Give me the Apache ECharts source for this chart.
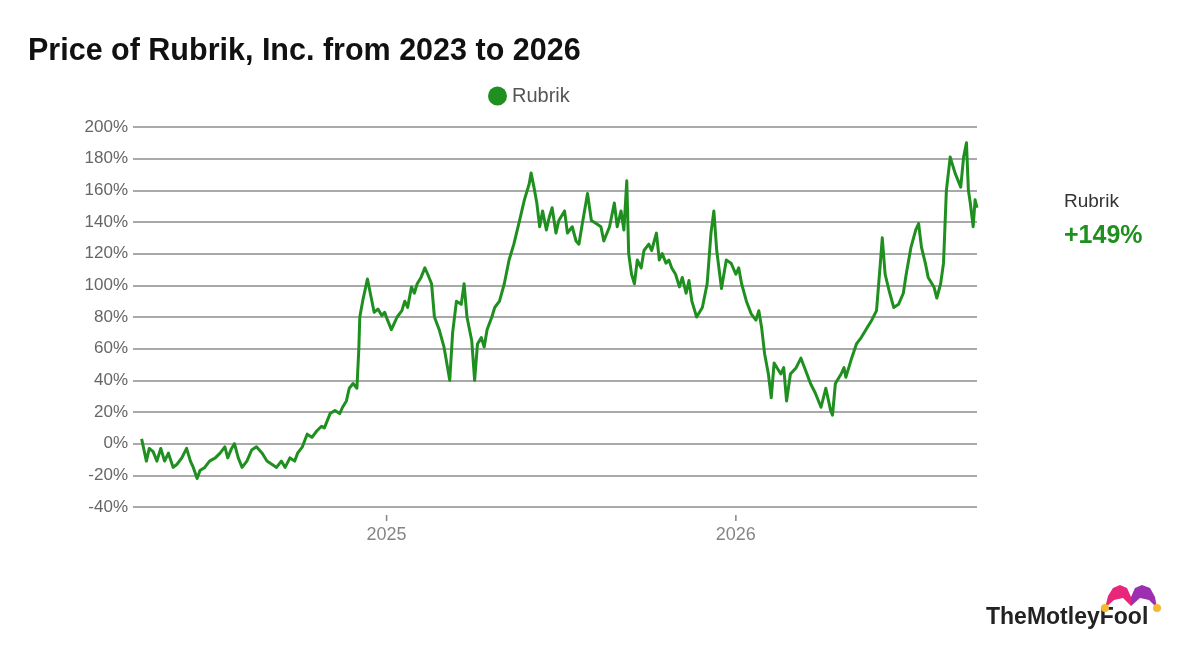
<!DOCTYPE html>
<html>
<head>
<meta charset="utf-8">
<script src="https://cdn.jsdelivr.net/npm/echarts@6/dist/echarts.min.js"></script>
<style>
html,body{margin:0;padding:0;background:#ffffff;}
#chart{width:1200px;height:645px;}
</style>
</head>
<body>
<div id="chart"></div>
<script>
const titleText = 'Price of Rubrik, Inc. from 2023 to 2026';
const seriesName = 'Rubrik';
const finalLabel = '+149%';
const yTicks = [-40, -20, 0, 20, 40, 60, 80, 100, 120, 140, 160, 180, 200];
const xTickDates = ['2025-01-01', '2026-01-01'];
const xTickLabels = ['2025', '2026'];
const xRange = ['2024-04-11', '2026-09-10'];

const dates = [
'2024-04-20','2024-04-25','2024-04-28','2024-05-02','2024-05-06','2024-05-10','2024-05-14','2024-05-18','2024-05-23','2024-05-27',
'2024-06-01','2024-06-06','2024-06-10','2024-06-13','2024-06-17','2024-06-20','2024-06-25','2024-06-30','2024-07-06','2024-07-11',
'2024-07-16','2024-07-19','2024-07-23','2024-07-26','2024-07-30','2024-08-03','2024-08-08','2024-08-13','2024-08-18','2024-08-24',
'2024-08-29','2024-09-03','2024-09-08','2024-09-13','2024-09-17','2024-09-22','2024-09-27','2024-09-30','2024-10-05','2024-10-10',
'2024-10-15','2024-10-20','2024-10-25','2024-10-28','2024-11-03','2024-11-08','2024-11-13','2024-11-16','2024-11-20','2024-11-23',
'2024-11-27','2024-12-01','2024-12-03','2024-12-04','2024-12-07','2024-12-12','2024-12-16','2024-12-19','2024-12-23','2024-12-27',
'2024-12-30','2025-01-02','2025-01-06','2025-01-09','2025-01-12','2025-01-17','2025-01-20','2025-01-23','2025-01-27','2025-01-30',
'2025-02-02','2025-02-06','2025-02-10','2025-02-13','2025-02-17','2025-02-20','2025-02-25','2025-03-02','2025-03-08','2025-03-11',
'2025-03-15','2025-03-20','2025-03-23','2025-03-26','2025-03-31','2025-04-03','2025-04-06','2025-04-10','2025-04-13','2025-04-16',
'2025-04-21','2025-04-24','2025-04-29','2025-05-04','2025-05-09','2025-05-14','2025-05-20','2025-05-25','2025-05-30','2025-06-01',
'2025-06-04','2025-06-07','2025-06-10','2025-06-13','2025-06-17','2025-06-20','2025-06-23','2025-06-27','2025-06-30','2025-07-06',
'2025-07-09','2025-07-14','2025-07-18','2025-07-21','2025-07-24','2025-07-30','2025-08-03','2025-08-08','2025-08-13','2025-08-16',
'2025-08-22','2025-08-27','2025-08-30','2025-09-03','2025-09-06','2025-09-09','2025-09-11','2025-09-14','2025-09-17','2025-09-20',
'2025-09-24','2025-09-27','2025-10-02','2025-10-05','2025-10-10','2025-10-13','2025-10-16','2025-10-20','2025-10-23','2025-10-26',
'2025-10-30','2025-11-03','2025-11-06','2025-11-10','2025-11-13','2025-11-16','2025-11-21','2025-11-27','2025-12-02','2025-12-06',
'2025-12-09','2025-12-12','2025-12-17','2025-12-22','2025-12-27','2026-01-01','2026-01-04','2026-01-07','2026-01-12','2026-01-17',
'2026-01-22','2026-01-25','2026-01-28','2026-01-31','2026-02-04','2026-02-07','2026-02-10','2026-02-13','2026-02-17','2026-02-20',
'2026-02-23','2026-02-27','2026-03-05','2026-03-10','2026-03-15','2026-03-20','2026-03-25','2026-03-31','2026-04-05','2026-04-10',
'2026-04-12','2026-04-15','2026-04-21','2026-04-24','2026-04-26','2026-05-02','2026-05-07','2026-05-12','2026-05-18','2026-05-23',
'2026-05-28','2026-06-01','2026-06-03','2026-06-06','2026-06-10','2026-06-15','2026-06-20','2026-06-25','2026-06-28','2026-07-03',
'2026-07-08','2026-07-11','2026-07-14','2026-07-18','2026-07-21','2026-07-27','2026-07-30','2026-08-03','2026-08-06','2026-08-09',
'2026-08-13','2026-08-18','2026-08-24','2026-08-27','2026-08-30','2026-09-01','2026-09-03','2026-09-06','2026-09-08','2026-09-10'
];

const pctChange = [
3,-11,-3,-5,-11,-3,-11,-6,-15,-13,
-9,-3,-11,-15,-22,-17,-15,-11,-9,-6,
-2,-9,-3,0,-9,-15,-11,-4,-2,-6,
-11,-13,-15,-11,-15,-9,-11,-6,-2,6,
4,8,11,10,19,21,19,23,27,35,
38,35,60,80,90,104,92,83,85,81,
83,78,72,76,80,84,90,86,99,95,
101,105,111,107,101,80,72,61,40,70,
90,88,101,80,65,40,63,67,61,72,
80,86,90,101,116,126,141,154,164,171,
162,152,137,147,135,143,149,133,141,147,
133,137,128,126,137,158,141,139,137,128,
137,152,137,147,135,166,120,107,101,116,
111,122,126,122,133,116,120,114,116,111,
107,99,105,95,103,90,80,86,101,133,
147,122,98,116,114,107,111,101,90,82,
78,84,73,57,44,29,51,48,44,48,
27,44,48,54,46,38,32,23,35,21,
18,38,44,48,42,54,63,67,73,78,
84,114,130,107,97,86,88,95,107,124,
135,139,124,114,105,99,92,101,114,160,
181,171,162,181,190,160,152,137,154,149
];

const lineColor = '#1f8f1f';
const axisTextColor = '#666666';
const toTime = d => Date.parse(d + 'T00:00:00Z');
const chart = echarts.init(document.getElementById('chart'));
const seriesData = dates.map((d, i) => [toTime(d), pctChange[i]]);
const tickData = xTickDates.map((d, i) => ({value: [toTime(d), yTicks[0]], label: {formatter: xTickLabels[i]}}));

chart.setOption({
  backgroundColor: '#ffffff',
  animation: false,
  title: {
    text: titleText,
    left: 23,
    top: 31,
    textStyle: {fontFamily: 'Liberation Sans', fontSize: 30.5, fontWeight: 'bold', color: '#111111'}
  },
  legend: {
    data: [{name: seriesName, icon: 'circle'}],
    left: 483,
    top: 81,
    itemWidth: 19,
    itemHeight: 19,
    itemGap: 8,
    textStyle: {fontFamily: 'Liberation Sans', fontSize: 20, color: '#555555'}
  },
  tooltip: {show: false},
  grid: {left: 133, right: 223, top: 127, bottom: 138, containLabel: false},
  xAxis: {
    type: 'value',
    min: toTime(xRange[0]),
    max: toTime(xRange[1]),
    axisLine: {show: false},
    axisTick: {show: false},
    splitLine: {show: false},
    axisLabel: {show: false}
  },
  yAxis: {
    type: 'value',
    min: yTicks[0],
    max: yTicks[yTicks.length - 1],
    interval: 20,
    axisLine: {show: false},
    axisTick: {show: false},
    axisLabel: {fontFamily: 'Liberation Sans', fontSize: 17, color: axisTextColor, margin: 5, formatter: '{value}%'},
    splitLine: {show: true, lineStyle: {color: '#a9a9a9', width: 2}}
  },
  series: [{
    name: seriesName,
    type: 'line',
    data: seriesData,
    showSymbol: false,
    symbol: 'circle',
    itemStyle: {color: lineColor},
    lineStyle: {color: lineColor, width: 3, join: 'round'},
    z: 3
  }, {
    name: 'xTicks',
    type: 'scatter',
    data: tickData,
    clip: false,
    silent: true,
    symbol: 'rect',
    symbolSize: [1.5, 6],
    symbolOffset: [0, 11],
    itemStyle: {color: axisTextColor},
    label: {show: true, position: 'inside', offset: [0, 17], fontFamily: 'Liberation Sans', fontSize: 18, color: axisTextColor},
    z: 2
  }],
  graphic: [
    {type: 'text', left: 1064, top: 192, style: {text: seriesName, font: '19px "Liberation Sans"', fill: '#333333'}},
    {type: 'text', left: 1064, top: 224, style: {text: finalLabel, font: 'bold 25px "Liberation Sans"', fill: lineColor}},
    {type: 'text', left: 986, top: 606, style: {text: 'TheMotleyFool', font: 'bold 23px "Liberation Sans"', fill: '#222222'}},
    {type: 'polygon', shape: {points: [[1105,608],[1108,596],[1113,588],[1120,585],[1127,588],[1131,597],[1131,606],[1123,598],[1114,600]]}, style: {fill: '#e8267a'}},
    {type: 'polygon', shape: {points: [[1131,606],[1131,597],[1135,588],[1142,585],[1150,588],[1155,597],[1157,608],[1149,600],[1140,598]]}, style: {fill: '#9b2fb0'}},
    {type: 'circle', shape: {cx: 1105, cy: 608, r: 4}, style: {fill: '#f5b82e'}},
    {type: 'circle', shape: {cx: 1157, cy: 608, r: 4}, style: {fill: '#f5b82e'}}
  ]
});
</script>
</body>
</html>
